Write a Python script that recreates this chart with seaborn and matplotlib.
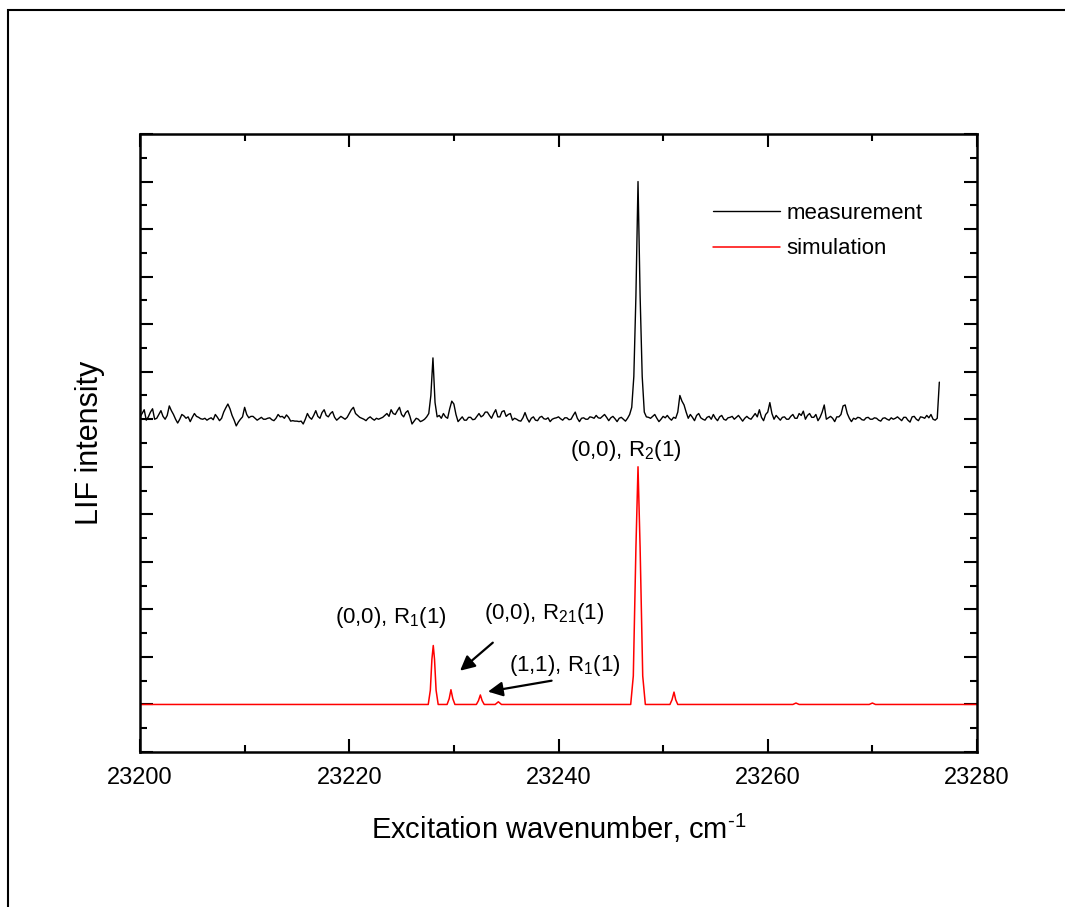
import numpy as np
import pandas as pd
import matplotlib
matplotlib.use("Agg")
import matplotlib.pyplot as plt
from matplotlib.patches import Rectangle
from matplotlib.ticker import MultipleLocator, NullFormatter
import seaborn as sns

# ---------------- data ----------------
meas_start = 23200.0          # cm^-1, first measured point
meas_step = 0.2               # cm^-1, sampling step of the measurement
meas_baseline = 6.0           # vertical offset of the measurement trace
# measured LIF signal relative to its baseline (read off the picture)
meas_signal = [
    0.05, 0.12, 0.20, -0.02, 0.05, 0.15, 0.22, 0.00, 0.02, 0.10,      # 23200
    0.18, 0.06, 0.00, 0.08, 0.28, 0.18, 0.10, 0.00, -0.08, 0.00,      # 23202
    0.10, 0.07, 0.02, 0.05, -0.05, 0.04, 0.12, 0.06, 0.04, 0.01,      # 23204
    0.00, 0.02, -0.02, 0.01, 0.03, -0.01, 0.10, 0.04, -0.03, 0.02,    # 23206
    0.15, 0.24, 0.32, 0.22, 0.08, -0.02, -0.14, -0.06, 0.00, 0.05,    # 23208
    0.25, 0.10, 0.03, 0.06, 0.06, 0.02, -0.02, 0.01, 0.04, 0.00,      # 23210
    0.00, 0.02, 0.03, -0.01, -0.03, 0.02, 0.10, 0.05, 0.06, 0.02,     # 23212
    0.09, 0.04, -0.04, -0.03, -0.04, -0.04, -0.05, -0.04, -0.10, 0.00,  # 23214
    0.12, 0.04, 0.00, 0.08, 0.18, 0.06, 0.02, 0.14, 0.20, 0.08,       # 23216
    0.05, 0.12, 0.16, 0.04, -0.02, 0.02, 0.06, 0.03, 0.00, 0.04,      # 23218
    0.12, 0.20, 0.25, 0.12, 0.08, 0.04, 0.02, 0.00, -0.03, 0.02,      # 23220
    0.05, 0.01, -0.02, 0.02, 0.00, 0.02, 0.04, 0.08, 0.12, 0.06,      # 23222
    0.20, 0.12, 0.10, 0.18, 0.25, 0.10, 0.05, 0.14, 0.18, 0.06,       # 23224
    -0.10, -0.04, 0.02, 0.00, -0.05, -0.03, 0.00, 0.05, 0.12, 0.50,   # 23226
    1.29, 0.35, 0.05, 0.08, 0.02, 0.12, 0.05, 0.02, 0.22, 0.38,       # 23228
    0.32, 0.10, -0.05, 0.00, 0.05, -0.02, -0.02, 0.04, 0.04, -0.01,   # 23230
    0.00, 0.06, 0.12, 0.05, 0.08, 0.15, 0.15, 0.08, 0.02, 0.12,       # 23232
    0.20, 0.05, 0.05, 0.16, 0.18, 0.06, 0.10, 0.12, -0.02, 0.02,      # 23234
    0.00, -0.03, -0.04, 0.03, 0.14, 0.02, -0.06, 0.02, 0.05, -0.02,   # 23236
    -0.03, 0.04, 0.06, 0.01, 0.00, 0.03, -0.05, 0.00, 0.02, 0.03,     # 23238
    0.05, 0.01, -0.02, 0.03, 0.03, -0.01, 0.00, 0.08, 0.15, 0.02,     # 23240
    -0.05, 0.02, 0.03, 0.00, 0.00, 0.05, 0.04, 0.02, 0.08, 0.03,      # 23242
    0.02, 0.06, 0.10, 0.04, -0.03, 0.03, 0.06, 0.01, -0.05, 0.02,     # 23244
    0.04, 0.00, -0.04, 0.02, 0.10, 0.25, 0.90, 2.60, 5.00, 2.60,      # 23246
    0.90, 0.15, 0.05, 0.04, 0.02, 0.06, 0.10, 0.02, -0.05, 0.00,      # 23248
    0.06, 0.03, 0.08, 0.02, -0.02, 0.04, 0.02, 0.15, 0.50, 0.38,      # 23250
    0.30, 0.15, 0.02, 0.10, 0.04, -0.03, 0.08, 0.12, 0.03, 0.00,      # 23252
    -0.02, 0.04, 0.06, 0.00, 0.10, 0.02, -0.03, 0.05, 0.08, 0.00,     # 23254
    -0.02, 0.03, 0.04, 0.06, 0.00, 0.04, 0.08, 0.02, -0.04, 0.02,     # 23256
    0.06, 0.02, 0.00, 0.06, 0.12, 0.05, 0.20, 0.04, -0.03, 0.10,      # 23258
    0.15, 0.35, 0.12, 0.00, 0.08, 0.03, -0.02, 0.04, 0.05, 0.00,      # 23260
    0.00, 0.06, 0.10, 0.02, 0.02, 0.12, 0.08, 0.17, 0.00, 0.08,       # 23262
    0.12, 0.04, 0.04, 0.10, -0.03, 0.04, 0.15, 0.30, 0.00, 0.03,      # 23264
    0.06, 0.02, -0.05, 0.05, 0.05, 0.10, 0.28, 0.30, 0.12, 0.02,      # 23266
    -0.05, 0.02, 0.00, 0.04, 0.03, -0.01, -0.02, 0.03, 0.04, 0.00,    # 23268
    0.00, 0.03, 0.02, -0.02, -0.04, 0.02, 0.03, 0.00, -0.02, 0.03,    # 23270
    0.00, 0.02, 0.05, 0.01, -0.03, 0.04, 0.04, -0.02, -0.06, 0.05,    # 23272
    0.06, 0.00, -0.03, 0.05, 0.04, 0.02, 0.08, 0.03, 0.10, 0.00,      # 23274
    -0.02, 0.02, 0.78,                                                # 23276
]

# simulated spectrum (wavenumber, intensity)
sim_x = [23200.0,
         23227.55, 23227.75, 23227.90, 23228.03, 23228.15, 23228.30, 23228.50,
         23229.35, 23229.55, 23229.72, 23229.90, 23230.10,
         23232.15, 23232.35, 23232.53, 23232.70, 23232.90,
         23233.95, 23234.25, 23234.55,
         23246.90, 23247.15, 23247.40, 23247.60, 23247.80, 23248.05, 23248.30,
         23250.65, 23250.85, 23251.04, 23251.20, 23251.40,
         23262.40, 23262.70, 23263.00,
         23269.70, 23270.00, 23270.30,
         23280.0]
sim_y = [0.0,
         0.0, 0.30, 0.95, 1.24, 0.95, 0.30, 0.0,
         0.0, 0.12, 0.31, 0.12, 0.0,
         0.0, 0.08, 0.20, 0.08, 0.0,
         0.0, 0.056, 0.0,
         0.0, 0.60, 3.30, 5.00, 3.30, 0.60, 0.0,
         0.0, 0.10, 0.26, 0.10, 0.0,
         0.0, 0.03, 0.0,
         0.0, 0.03, 0.0,
         0.0]

series_labels = ["measurement", "simulation"]
series_colors = ["black", "red"]

xlabel = "Excitation wavenumber, cm$^{\u20101}$"
ylabel = "LIF intensity"
xticks = [23200, 23220, 23240, 23260, 23280]

# annotations: (text, x, y)
labels = [
    ("(0,0), R$_2$(1)", 23246.4, 5.34),
    ("(0,0), R$_1$(1)", 23224.0, 1.83),
    ("(0,0), R$_{21}$(1)", 23238.6, 1.92),
    ("(1,1), R$_1$(1)", 23240.6, 0.82),
]
# arrows: (tail_x, tail_y, head_x, head_y)
arrows = [
    (23233.72, 1.30, 23230.59, 0.71),
    (23239.34, 0.50, 23233.26, 0.27),
]

# ---------------- build tables ----------------
meas_x = meas_start + meas_step * np.arange(len(meas_signal))
meas_df = pd.DataFrame({"x": meas_x, "y": meas_baseline + np.array(meas_signal),
                        "series": series_labels[0]})
sim_df = pd.DataFrame({"x": sim_x, "y": sim_y, "series": series_labels[1]})

# ---------------- style ----------------
sns.set_style("ticks")
plt.rcParams["font.family"] = ["Liberation Sans", "DejaVu Sans"]
plt.rcParams["mathtext.default"] = "regular"
for key in ["text.color", "axes.labelcolor", "xtick.color", "ytick.color",
            "axes.edgecolor"]:
    plt.rcParams[key] = "black"

fig = plt.figure(figsize=(10.65, 9.07), dpi=100)
ax = fig.add_axes([140 / 1065, 1 - 752 / 907, 837 / 1065, 618 / 907])

sns.lineplot(data=meas_df, x="x", y="y", color=series_colors[0], lw=1.0,
             label=series_labels[0], ax=ax, estimator=None, sort=False)
sns.lineplot(data=sim_df, x="x", y="y", color=series_colors[1], lw=1.1,
             label=series_labels[1], ax=ax, estimator=None, sort=False)

ax.set_xlim(23200, 23280)
ax.set_ylim(-1, 12)
ax.set_xticks(xticks)
ax.xaxis.set_minor_locator(MultipleLocator(10))
ax.yaxis.set_major_locator(MultipleLocator(1))
ax.yaxis.set_minor_locator(MultipleLocator(0.5))
ax.yaxis.set_major_formatter(NullFormatter())

for s in ax.spines.values():
    s.set_linewidth(1.8)
    s.set_visible(True)
    s.set_color("black")
ax.tick_params(which="both", direction="in", top=True, right=True,
               width=1.5, colors="black")
ax.tick_params(which="major", length=9.5)
ax.tick_params(which="minor", length=5)
ax.tick_params(axis="x", which="major", labelsize=17, pad=11)

ax.set_xlabel(xlabel, fontsize=21, labelpad=16)
ax.set_ylabel(ylabel, fontsize=22, labelpad=22)

for txt, x, y in labels:
    ax.text(x, y, txt, fontsize=16, ha="center", va="center")
for tx, ty, hx, hy in arrows:
    ax.annotate("", xy=(hx, hy), xytext=(tx, ty),
                arrowprops=dict(arrowstyle="-|>", color="black", lw=1.6,
                                mutation_scale=22, shrinkA=0, shrinkB=0))

leg = ax.legend(loc="upper left", bbox_to_anchor=((713 - 140) / 837, (752 - 203) / 618),
                frameon=False, fontsize=16, handlelength=3.0, handletextpad=0.3,
                labelspacing=0.65, borderpad=0, borderaxespad=0)

# outer frame around the figure
fig.add_artist(Rectangle((7.5 / 1065, -0.2), 1.5, 1.2 - 10 / 907,
                         transform=fig.transFigure, fill=False,
                         edgecolor="black", lw=1.5, clip_on=False))

fig.savefig("out.png", dpi=100)
